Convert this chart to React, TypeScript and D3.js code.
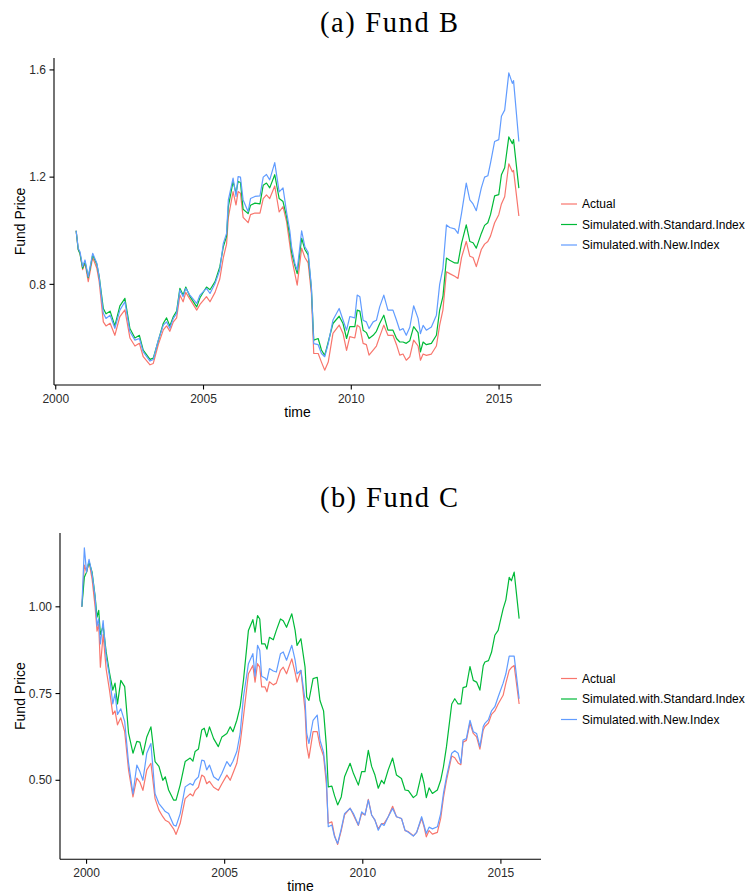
import React from "react";
import * as d3 from "d3";

// ---------- Data: (a) Fund B ----------
const fundBTime = [
  2000.69, 2000.76, 2000.82, 2000.91, 2000.99, 2001.10, 2001.25, 2001.39, 2001.47, 2001.61,
  2001.70, 2001.84, 2002.00, 2002.17, 2002.34, 2002.51, 2002.68, 2002.83, 2002.96, 2003.19,
  2003.30, 2003.47, 2003.64, 2003.75, 2003.86, 2003.98, 2004.09, 2004.20, 2004.31, 2004.40,
  2004.54, 2004.77, 2004.88, 2005.10, 2005.22, 2005.39, 2005.55, 2005.67, 2005.78, 2005.84,
  2006.00, 2006.10, 2006.17, 2006.25, 2006.34, 2006.51, 2006.59, 2006.74, 2006.91, 2007.02,
  2007.13, 2007.24, 2007.41, 2007.56, 2007.69, 2007.81, 2007.92, 2007.98, 2008.09, 2008.17,
  2008.32, 2008.43, 2008.54, 2008.65, 2008.73, 2008.88, 2008.99, 2009.10, 2009.22, 2009.38,
  2009.59, 2009.72, 2009.84, 2009.95, 2010.12, 2010.20, 2010.29, 2010.40, 2010.51, 2010.60,
  2010.74, 2010.85, 2010.96, 2011.10, 2011.24, 2011.41, 2011.53, 2011.64, 2011.75, 2011.86,
  2011.98, 2012.11, 2012.26, 2012.34, 2012.43, 2012.54, 2012.71, 2012.88, 2012.99, 2013.10,
  2013.22, 2013.33, 2013.50, 2013.61, 2013.73, 2013.89, 2014.01, 2014.12, 2014.23, 2014.40,
  2014.51, 2014.62, 2014.71, 2014.85, 2014.99, 2015.08, 2015.19, 2015.33, 2015.45, 2015.49,
  2015.67,
];
const fundBActual = [
  1.00, 0.93, 0.915, 0.855, 0.88, 0.81, 0.90, 0.86, 0.81, 0.66,
  0.645, 0.655, 0.61, 0.68, 0.705, 0.60, 0.57, 0.58, 0.53, 0.50,
  0.505, 0.575, 0.63, 0.645, 0.625, 0.66, 0.675, 0.76, 0.735, 0.77,
  0.745, 0.704, 0.725, 0.754, 0.735, 0.77, 0.82, 0.90, 0.95, 1.05,
  1.146, 1.096, 1.146, 1.14, 1.05, 1.03, 1.06, 1.066, 1.066, 1.12,
  1.134, 1.12, 1.167, 1.07, 1.09, 1.034, 0.947, 0.90, 0.84, 0.797,
  0.935, 0.90, 0.88, 0.765, 0.542, 0.542, 0.51, 0.48, 0.51, 0.617,
  0.648, 0.617, 0.554, 0.605, 0.60, 0.648, 0.64, 0.58, 0.575, 0.536,
  0.555, 0.57, 0.605, 0.648, 0.61, 0.61, 0.575, 0.536, 0.54, 0.517,
  0.53, 0.592, 0.57, 0.517, 0.54, 0.535, 0.54, 0.57, 0.648, 0.704,
  0.847, 0.84, 0.83, 0.822, 0.90, 0.96, 0.905, 0.90, 0.866, 0.93,
  0.95, 0.96, 0.98, 1.03, 1.06, 1.10, 1.127, 1.25, 1.22, 1.225,
  1.055,
];
const fundBStandard = [
  1.00, 0.93, 0.915, 0.86, 0.885, 0.825, 0.91, 0.875, 0.83, 0.71,
  0.69, 0.70, 0.645, 0.72, 0.748, 0.635, 0.60, 0.61, 0.555, 0.52,
  0.525, 0.59, 0.655, 0.675, 0.645, 0.68, 0.70, 0.785, 0.76, 0.79,
  0.755, 0.716, 0.75, 0.79, 0.78, 0.81, 0.865, 0.94, 0.98, 1.09,
  1.184, 1.14, 1.184, 1.18, 1.08, 1.064, 1.095, 1.103, 1.10, 1.17,
  1.178, 1.16, 1.209, 1.12, 1.109, 1.053, 0.98, 0.92, 0.87, 0.84,
  0.972, 0.93, 0.91, 0.785, 0.592, 0.598, 0.555, 0.535, 0.585, 0.654,
  0.681, 0.654, 0.598, 0.642, 0.642, 0.704, 0.70, 0.629, 0.62, 0.598,
  0.61, 0.625, 0.654, 0.685, 0.629, 0.629, 0.598, 0.585, 0.585, 0.58,
  0.59, 0.642, 0.62, 0.548, 0.585, 0.575, 0.58, 0.61, 0.704, 0.754,
  0.898, 0.89, 0.88, 0.879, 0.953, 1.022, 0.96, 0.955, 0.935, 0.99,
  1.02, 1.03, 1.06, 1.13, 1.135, 1.209, 1.235, 1.35, 1.325, 1.34,
  1.159,
];
const fundBNew = [
  1.00, 0.935, 0.922, 0.866, 0.891, 0.828, 0.916, 0.879, 0.828, 0.692,
  0.673, 0.685, 0.636, 0.704, 0.735, 0.623, 0.592, 0.598, 0.548, 0.514,
  0.52, 0.592, 0.648, 0.66, 0.636, 0.673, 0.692, 0.779, 0.754, 0.785,
  0.76, 0.729, 0.76, 0.785, 0.766, 0.803, 0.853, 0.953, 0.99, 1.115,
  1.196, 1.128, 1.202, 1.20, 1.115, 1.071, 1.12, 1.128, 1.13, 1.20,
  1.21, 1.19, 1.254, 1.145, 1.16, 1.07, 1.00, 0.94, 0.879, 0.853,
  1.00, 0.94, 0.92, 0.79, 0.579, 0.575, 0.542, 0.53, 0.579, 0.667,
  0.71, 0.667, 0.629, 0.68, 0.675, 0.76, 0.754, 0.666, 0.66, 0.635,
  0.66, 0.666, 0.716, 0.76, 0.704, 0.704, 0.666, 0.629, 0.635, 0.61,
  0.64, 0.72, 0.673, 0.616, 0.647, 0.629, 0.641, 0.685, 0.80, 0.86,
  1.022, 1.012, 1.007, 0.99, 1.065, 1.178, 1.115, 1.10, 1.075, 1.16,
  1.20, 1.205, 1.252, 1.333, 1.34, 1.427, 1.45, 1.589, 1.55, 1.56,
  1.333,
];

// ---------- Data: (b) Fund C ----------
const fundCTime = [
  1999.83, 1999.92, 2000.00, 2000.09, 2000.20, 2000.31, 2000.38, 2000.44, 2000.50, 2000.60,
  2000.71, 2000.83, 2000.95, 2001.03, 2001.12, 2001.24, 2001.38, 2001.52, 2001.68, 2001.82,
  2001.93, 2002.04, 2002.18, 2002.33, 2002.48, 2002.62, 2002.76, 2002.85, 2002.97, 2003.15,
  2003.24, 2003.39, 2003.57, 2003.75, 2003.85, 2003.93, 2004.05, 2004.17, 2004.26, 2004.35,
  2004.45, 2004.60, 2004.77, 2004.90, 2005.08, 2005.20, 2005.30, 2005.44, 2005.56, 2005.68,
  2005.86, 2006.02, 2006.10, 2006.19, 2006.27, 2006.34, 2006.46, 2006.53, 2006.62, 2006.76,
  2006.87, 2007.02, 2007.12, 2007.24, 2007.43, 2007.55, 2007.62, 2007.76, 2007.91, 2007.97,
  2008.05, 2008.20, 2008.35, 2008.45, 2008.58, 2008.68, 2008.75, 2008.88, 2008.98, 2009.09,
  2009.22, 2009.34, 2009.54, 2009.66, 2009.84, 2009.96, 2010.08, 2010.20, 2010.32, 2010.44,
  2010.56, 2010.68, 2010.77, 2010.92, 2011.08, 2011.22, 2011.40, 2011.53, 2011.65, 2011.83,
  2011.95, 2012.13, 2012.22, 2012.30, 2012.40, 2012.52, 2012.70, 2012.82, 2012.92, 2013.03,
  2013.22, 2013.33, 2013.45, 2013.55, 2013.63, 2013.75, 2013.88, 2014.00, 2014.12, 2014.24,
  2014.36, 2014.42, 2014.55, 2014.66, 2014.78, 2014.90, 2015.08, 2015.18, 2015.30, 2015.38,
  2015.48, 2015.66,
];
const fundCActual = [
  1.00, 1.12, 1.10, 1.13, 1.08, 1.00, 0.93, 0.95, 0.826, 0.92,
  0.82, 0.76, 0.69, 0.70, 0.66, 0.68, 0.64, 0.53, 0.452, 0.506,
  0.495, 0.471, 0.53, 0.549, 0.447, 0.414, 0.395, 0.385, 0.38, 0.36,
  0.344, 0.376, 0.447, 0.461, 0.455, 0.47, 0.48, 0.515, 0.51, 0.49,
  0.497, 0.48, 0.471, 0.49, 0.515, 0.50, 0.52, 0.549, 0.606, 0.683,
  0.807, 0.831, 0.783, 0.836, 0.826, 0.769, 0.769, 0.755, 0.784, 0.775,
  0.78, 0.817, 0.826, 0.807, 0.85, 0.81, 0.783, 0.817, 0.70, 0.60,
  0.564, 0.64, 0.64, 0.60, 0.57, 0.49, 0.376, 0.38, 0.34, 0.315,
  0.355, 0.40, 0.42, 0.40, 0.37, 0.405, 0.40, 0.445, 0.40, 0.385,
  0.36, 0.375, 0.375, 0.395, 0.425, 0.395, 0.39, 0.355, 0.352, 0.34,
  0.35, 0.39, 0.365, 0.337, 0.355, 0.345, 0.35, 0.39, 0.45, 0.50,
  0.57, 0.565, 0.55, 0.545, 0.61, 0.615, 0.665, 0.635, 0.625, 0.59,
  0.645, 0.655, 0.665, 0.69, 0.70, 0.72, 0.745, 0.78, 0.817, 0.825,
  0.831, 0.72,
];
const fundCStandard = [
  1.00, 1.085, 1.10, 1.13, 1.10, 1.03, 0.97, 0.99, 0.92, 0.945,
  0.87, 0.81, 0.76, 0.78, 0.72, 0.788, 0.77, 0.636, 0.578, 0.612,
  0.61, 0.573, 0.625, 0.654, 0.554, 0.54, 0.50, 0.51, 0.472, 0.443,
  0.443, 0.487, 0.554, 0.564, 0.555, 0.583, 0.59, 0.645, 0.65, 0.625,
  0.654, 0.62, 0.597, 0.625, 0.635, 0.654, 0.64, 0.673, 0.712, 0.788,
  0.932, 0.963, 0.927, 0.975, 0.965, 0.893, 0.893, 0.878, 0.912, 0.905,
  0.932, 0.965, 0.96, 0.941, 0.98, 0.932, 0.889, 0.908, 0.826, 0.74,
  0.73, 0.793, 0.797, 0.73, 0.70, 0.60, 0.481, 0.483, 0.455, 0.429,
  0.452, 0.51, 0.549, 0.52, 0.486, 0.525, 0.525, 0.586, 0.54, 0.515,
  0.477, 0.50, 0.49, 0.53, 0.564, 0.515, 0.505, 0.472, 0.47, 0.45,
  0.458, 0.52, 0.49, 0.45, 0.478, 0.462, 0.472, 0.50, 0.539, 0.597,
  0.72, 0.735, 0.72, 0.72, 0.767, 0.77, 0.828, 0.788, 0.783, 0.76,
  0.83, 0.841, 0.845, 0.869, 0.918, 0.932, 0.994, 1.02, 1.085, 1.075,
  1.10, 0.966,
];
const fundCNew = [
  1.00, 1.17, 1.10, 1.137, 1.095, 1.028, 0.945, 0.965, 0.893, 0.96,
  0.855, 0.80, 0.72, 0.75, 0.69, 0.706, 0.67, 0.55, 0.461, 0.544,
  0.525, 0.50, 0.578, 0.606, 0.461, 0.433, 0.419, 0.41, 0.404, 0.371,
  0.368, 0.404, 0.481, 0.491, 0.486, 0.50, 0.51, 0.558, 0.556, 0.53,
  0.544, 0.51, 0.50, 0.52, 0.554, 0.54, 0.555, 0.583, 0.635, 0.74,
  0.836, 0.865, 0.80, 0.889, 0.875, 0.80, 0.795, 0.788, 0.822, 0.815,
  0.812, 0.865, 0.87, 0.846, 0.889, 0.846, 0.807, 0.817, 0.731, 0.635,
  0.606, 0.673, 0.688, 0.616, 0.58, 0.51, 0.366, 0.371, 0.337, 0.318,
  0.36, 0.404, 0.419, 0.404, 0.371, 0.409, 0.40, 0.443, 0.40, 0.385,
  0.356, 0.375, 0.37, 0.395, 0.419, 0.395, 0.39, 0.356, 0.35, 0.339,
  0.35, 0.395, 0.37, 0.347, 0.365, 0.36, 0.366, 0.404, 0.462, 0.51,
  0.578, 0.585, 0.578, 0.549, 0.616, 0.62, 0.673, 0.64, 0.635, 0.597,
  0.655, 0.664, 0.675, 0.70, 0.712, 0.74, 0.78, 0.807, 0.858, 0.858,
  0.858, 0.735,
];

const seriesNames = ["Actual", "Simulated.with.Standard.Index", "Simulated.with.New.Index"];
const seriesColors = ["#F8766D", "#00BA38", "#619CFF"];
const xTickValues = [2000, 2005, 2010, 2015];
const fundBYTicks = [0.8, 1.2, 1.6];
const fundCYTicks = [0.5, 0.75, 1.0];

const sansFont = "'Liberation Sans', Arial, Helvetica, sans-serif";
const serifFont = "'Liberation Serif', 'DejaVu Serif', serif";

type PanelProps = {
  title: string;
  time: number[];
  series: number[][];
  yTicks: number[];
  yDecimals: number;
  left: number;
  right: number;
  top: number;
  bottom: number;
  titleY: number;
  legendY: number;
};

function expandExtent(values: number[]): [number, number] {
  const [lo, hi] = d3.extent(values) as [number, number];
  const pad = (hi - lo) * 0.05;
  return [lo - pad, hi + pad];
}

function Panel(p: PanelProps) {
  const x = d3.scaleLinear().domain(expandExtent(p.time)).range([p.left, p.right]);
  const allY = p.series.flat();
  const y = d3.scaleLinear().domain(expandExtent(allY)).range([p.bottom, p.top]);
  const line = d3
    .line<[number, number]>()
    .x((d) => x(d[0]))
    .y((d) => y(d[1]));
  const tickColor = "#2b2b2b";
  const midX = (p.left + p.right) / 2;
  const midY = (p.top + p.bottom) / 2;
  return (
    <g>
      <text
        x={389}
        y={p.titleY}
        textAnchor="middle"
        fontFamily={serifFont}
        fontSize={28.5}
        textLength={138}
        lengthAdjust="spacing"
        fill="#000"
      >
        {p.title}
      </text>
      {p.series.map((vals, i) => (
        <path
          key={i}
          d={line(p.time.map((t, j) => [t, vals[j]] as [number, number])) || ""}
          fill="none"
          stroke={seriesColors[i]}
          strokeWidth={1.2}
          strokeLinejoin="round"
        />
      ))}
      {/* axes */}
      <line x1={p.left} x2={p.left} y1={p.top} y2={p.bottom} stroke="#000" strokeWidth={1.1} />
      <line x1={p.left} x2={p.right} y1={p.bottom} y2={p.bottom} stroke="#000" strokeWidth={1.1} />
      {p.yTicks.map((t) => (
        <g key={"y" + t}>
          <line x1={p.left - 4.5} x2={p.left} y1={y(t)} y2={y(t)} stroke="#000" strokeWidth={1.1} />
          <text
            x={p.left - 8}
            y={y(t)}
            dy="0.35em"
            textAnchor="end"
            fontFamily={sansFont}
            fontSize={12}
            fill={tickColor}
          >
            {t.toFixed(p.yDecimals)}
          </text>
        </g>
      ))}
      {xTickValues.map((t) => (
        <g key={"x" + t}>
          <line x1={x(t)} x2={x(t)} y1={p.bottom} y2={p.bottom + 4.5} stroke="#000" strokeWidth={1.1} />
          <text
            x={x(t)}
            y={p.bottom + 18}
            textAnchor="middle"
            fontFamily={sansFont}
            fontSize={12}
            fill={tickColor}
          >
            {t}
          </text>
        </g>
      ))}
      <text x={midX} y={p.bottom + 32} textAnchor="middle" fontFamily={sansFont} fontSize={14} fill="#000">
        time
      </text>
      <text
        transform={`translate(24.5,${midY}) rotate(-90)`}
        textAnchor="middle"
        fontFamily={sansFont}
        fontSize={14}
        fill="#000"
      >
        Fund Price
      </text>
      {/* legend */}
      {seriesNames.map((name, i) => (
        <g key={name} transform={`translate(0,${p.legendY + i * 20.5})`}>
          <line x1={561} x2={577} y1={0} y2={0} stroke={seriesColors[i]} strokeWidth={1.2} />
          <text x={582} y={0} dy="0.35em" fontFamily={sansFont} fontSize={12} fill="#000">
            {name}
          </text>
        </g>
      ))}
    </g>
  );
}

export default function App() {
  return (
    <svg
      width={745}
      height={894}
      style={{ position: "absolute", left: 0, top: 0, background: "#fff" }}
    >
      <rect width={745} height={894} fill="#fff" />
      <Panel
        title="(a) Fund B"
        time={fundBTime}
        series={[fundBActual, fundBStandard, fundBNew]}
        yTicks={fundBYTicks}
        yDecimals={1}
        left={54}
        right={541}
        top={58}
        bottom={385}
        titleY={31.7}
        legendY={204}
      />
      <Panel
        title="(b) Fund C"
        time={fundCTime}
        series={[fundCActual, fundCStandard, fundCNew]}
        yTicks={fundCYTicks}
        yDecimals={2}
        left={60}
        right={541}
        top={533}
        bottom={859.3}
        titleY={506.7}
        legendY={678.5}
      />
    </svg>
  );
}
